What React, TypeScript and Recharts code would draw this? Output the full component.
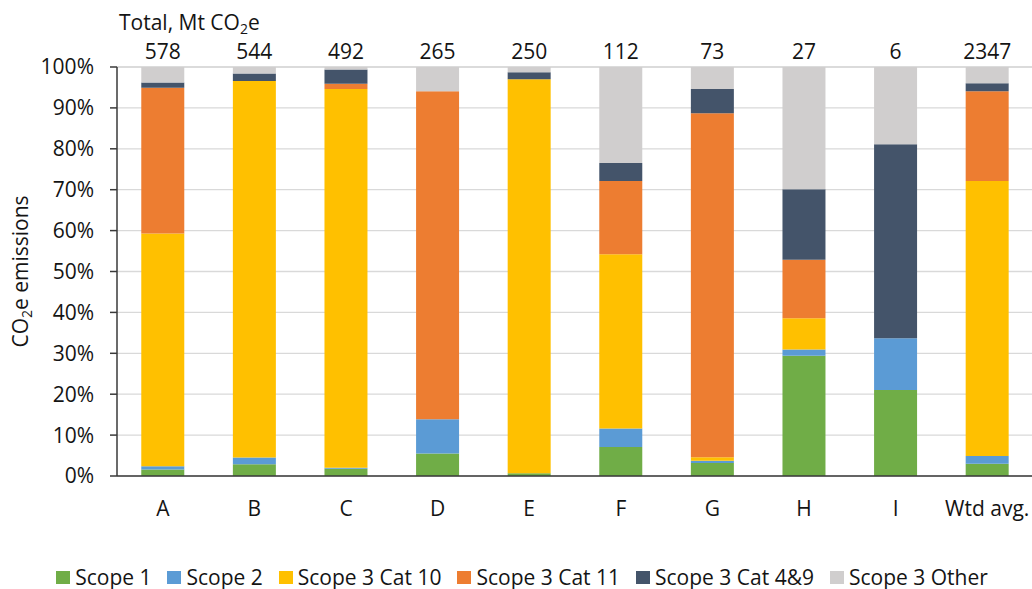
import React from 'react';
import { BarChart, Bar, XAxis, YAxis, CartesianGrid, Legend, LabelList } from 'recharts';

const categories = ['A', 'B', 'C', 'D', 'E', 'F', 'G', 'H', 'I', 'Wtd avg.'];
const totals = [578, 544, 492, 265, 250, 112, 73, 27, 6, 2347];
const scope1 = [1.6, 2.9, 1.8, 5.5, 0.7, 7.1, 3.2, 29.4, 21.0, 3.0];
const scope2 = [0.8, 1.6, 0.2, 8.4, 0.0, 4.5, 0.5, 1.5, 12.7, 1.9];
const cat10 = [56.9, 92.1, 92.6, 0.0, 96.3, 42.6, 0.9, 7.7, 0.0, 67.2];
const cat11 = [35.6, 0.0, 1.3, 80.2, 0.0, 17.9, 84.1, 14.3, 0.0, 22.0];
const cat49 = [1.3, 1.8, 3.5, 0.0, 1.7, 4.4, 5.9, 17.2, 47.4, 1.9];
const other = [3.8, 1.6, 0.6, 5.9, 1.3, 23.5, 5.4, 29.9, 18.9, 4.0];
const yTicks = [0, 10, 20, 30, 40, 50, 60, 70, 80, 90, 100];

const series = [
  { key: 's1', name: 'Scope 1', color: '#70AD47', values: scope1 },
  { key: 's2', name: 'Scope 2', color: '#5B9BD5', values: scope2 },
  { key: 'c10', name: 'Scope 3 Cat 10', color: '#FFC000', values: cat10 },
  { key: 'c11', name: 'Scope 3 Cat 11', color: '#ED7D31', values: cat11 },
  { key: 'c49', name: 'Scope 3 Cat 4&9', color: '#44546A', values: cat49 },
  { key: 'oth', name: 'Scope 3 Other', color: '#D0CECE', values: other },
];

const data = categories.map((c, i) => {
  const row: Record<string, string | number> = { cat: c, total: totals[i] };
  series.forEach((s) => {
    row[s.key] = s.values[i];
  });
  return row;
});

const FONT = '"Open Sans", sans-serif';
const FS = 21;
const SUB = 14;
const TEXT = '#141414';
const AXIS = '#3a3a3a';

const YLabel = (props: any) => {
  const vb = props.viewBox || { x: 0, y: 0, width: 0, height: 0 };
  const x = vb.x + 21;
  const y = vb.y + vb.height / 2;
  return (
    <text
      x={x}
      y={y}
      transform={`rotate(-90, ${x}, ${y})`}
      textAnchor="middle"
      fontFamily={FONT}
      fontSize={FS}
      fill={TEXT}
    >
      <tspan>CO</tspan>
      <tspan dy={4} fontSize={SUB}>2</tspan>
      <tspan dy={-4}>e emissions</tspan>
    </text>
  );
};

const LegendContent = (props: any) => {
  const payload = props.payload || [];
  return (
    <div
      style={{
        display: 'flex',
        justifyContent: 'center',
        alignItems: 'center',
        fontFamily: FONT,
        fontSize: FS,
        lineHeight: '20px',
        color: TEXT,
        paddingLeft: 28,
      }}
    >
      {payload.map((p: any) => (
        <div key={p.value} style={{ display: 'flex', alignItems: 'center', marginRight: 16 }}>
          <span style={{ display: 'inline-block', width: 14, height: 13, background: p.color, marginRight: 5 }} />
          <span>{p.value}</span>
        </div>
      ))}
    </div>
  );
};

export default function App() {
  return (
    <div style={{ position: 'relative', width: 1032, height: 589, background: '#fff' }}>
      <style>{`body{margin:0;}`}</style>
      <BarChart
        width={1032}
        height={589}
        data={data}
        margin={{ top: 67, right: -1, left: 7, bottom: 73 }}
        barCategoryGap="26.5%"
      >
        <CartesianGrid vertical={false} stroke="#D9D9D9" strokeWidth={1.3} />
        <XAxis
          dataKey="cat"
          height={40}
          tickLine={false}
          tickSize={0}
          tickMargin={25}
          axisLine={{ stroke: AXIS, strokeWidth: 1.5 }}
          tick={{ fontFamily: FONT, fontSize: FS, fill: TEXT }}
          interval={0}
        />
        <YAxis
          width={110}
          domain={[0, 100]}
          ticks={yTicks}
          tickFormatter={(v: number) => `${v}%`}
          tickSize={7}
          tickMargin={16}
          tickLine={{ stroke: AXIS, strokeWidth: 1.5 }}
          axisLine={{ stroke: AXIS, strokeWidth: 1.5 }}
          tick={{ fontFamily: FONT, fontSize: FS, fill: TEXT }}
          label={{ content: (p: any) => <YLabel {...p} /> }}
        />
        <Legend
          verticalAlign="middle"
          align="center"
          content={<LegendContent />}
          wrapperStyle={{ position: 'absolute', top: 567, left: 0, width: 1032, height: 20 }}
        />
        {series.map((s, idx) => (
          <Bar
            key={s.key}
            dataKey={s.key}
            name={s.name}
            stackId="a"
            fill={s.color}
            isAnimationActive={false}
          >
            {idx === series.length - 1 ? (
              <LabelList
                dataKey="total"
                position="top"
                offset={8}
                style={{ fontFamily: FONT, fontSize: FS, fill: TEXT }}
              />
            ) : null}
          </Bar>
        ))}
      </BarChart>
      <svg
        width={1032}
        height={40}
        style={{ position: 'absolute', left: 0, top: 0, pointerEvents: 'none' }}
      >
        <text x={119} y={30} fontFamily={FONT} fontSize={FS} fill={TEXT}>
          <tspan>Total, Mt CO</tspan>
          <tspan dy={4} fontSize={SUB}>2</tspan>
          <tspan dy={-4}>e</tspan>
        </text>
      </svg>
    </div>
  );
}
